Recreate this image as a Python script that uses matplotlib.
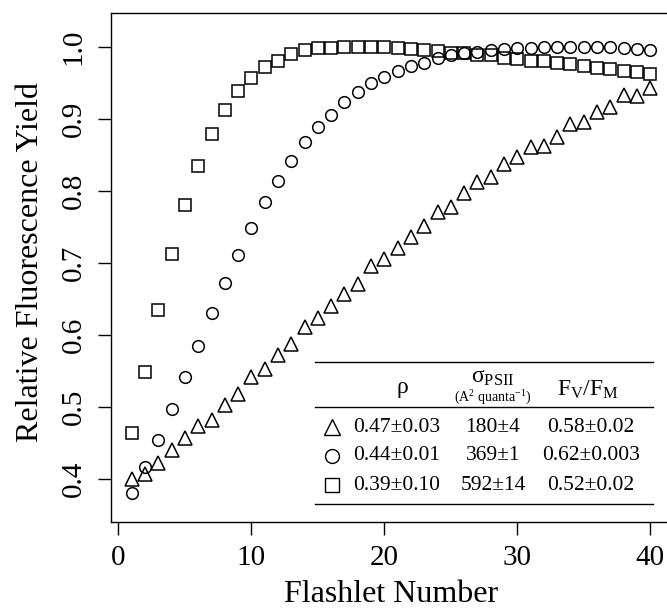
import numpy as np
import matplotlib
matplotlib.use("Agg")
import matplotlib.pyplot as plt
from matplotlib.lines import Line2D

plt.rcParams['font.family'] = ['Liberation Serif', 'DejaVu Serif']
plt.rcParams['mathtext.fontset'] = 'custom'
plt.rcParams['mathtext.rm'] = 'Liberation Serif'
plt.rcParams['mathtext.it'] = 'Liberation Serif:italic'

# Dados
flashlet = np.arange(1, 41)

yield_tri = [0.400, 0.407, 0.422, 0.440, 0.457, 0.474, 0.482, 0.503, 0.518, 0.542,
             0.553, 0.572, 0.587, 0.611, 0.624, 0.640, 0.656, 0.671, 0.695, 0.705,
             0.721, 0.736, 0.751, 0.770, 0.778, 0.797, 0.812, 0.819, 0.837, 0.847,
             0.861, 0.862, 0.875, 0.893, 0.896, 0.909, 0.916, 0.933, 0.932, 0.943]

yield_circ = [0.380, 0.417, 0.454, 0.497, 0.542, 0.585, 0.630, 0.672, 0.711, 0.748,
              0.784, 0.813, 0.841, 0.868, 0.888, 0.906, 0.923, 0.937, 0.950, 0.958,
              0.967, 0.974, 0.978, 0.984, 0.989, 0.991, 0.993, 0.995, 0.997, 0.998,
              0.999, 1.000, 1.000, 1.000, 1.000, 1.000, 1.000, 0.999, 0.997, 0.996]

yield_sq = [0.464, 0.549, 0.635, 0.712, 0.781, 0.835, 0.879, 0.912, 0.939, 0.957,
            0.972, 0.981, 0.990, 0.995, 0.998, 0.999, 1.000, 1.000, 1.000, 1.000,
            0.998, 0.997, 0.996, 0.994, 0.992, 0.991, 0.989, 0.988, 0.985, 0.983,
            0.981, 0.980, 0.978, 0.976, 0.974, 0.971, 0.969, 0.967, 0.965, 0.962]

# Tabela da legenda
table_markers = ['^', 'o', 's']
rho_vals = ['0.47±0.03', '0.44±0.01', '0.39±0.10']
sigma_vals = ['180±4', '369±1', '592±14']
fvfm_vals = ['0.58±0.02', '0.62±0.003', '0.52±0.02']

W, H = 667, 611
fig = plt.figure(figsize=(W / 100, H / 100), dpi=100)
ax = fig.add_axes([111 / W, 1 - 522 / H, (671 - 111) / W, (522 - 13) / H])


def px(x, y):
    # pixels da imagem -> fracao da figura
    return x / W, 1 - y / H


kw = dict(linestyle='none', mfc='none', mec='black', mew=1.1)
ax.plot(flashlet, yield_tri, marker='^', ms=10, **kw)
ax.plot(flashlet, yield_circ, marker='o', ms=8.4, **kw)
ax.plot(flashlet, yield_sq, marker='s', ms=8.4, **kw)

ax.set_xlim(-0.56, 41.56)
ax.set_ylim(0.34, 1.047)
ax.set_xticks([0, 10, 20, 30, 40])
ax.set_yticks([0.4, 0.5, 0.6, 0.7, 0.8, 0.9, 1.0])
ax.set_yticklabels(['0.4', '0.5', '0.6', '0.7', '0.8', '0.9', '1.0'])
for s in ax.spines.values():
    s.set_linewidth(1.0)
ax.tick_params(axis='both', direction='out', length=9.5, width=1.0, labelsize=21)
ax.tick_params(axis='x', pad=7)
ax.tick_params(axis='y', pad=8)
plt.setp(ax.get_yticklabels(), rotation=90, va='center')

fig.text(*px(391, 595), 'Flashlet Number', fontsize=23, ha='center', va='center')
fig.text(*px(31, 262), 'Relative Fluorescence Yield', fontsize=23, ha='center',
         va='center', rotation=90)

# linhas da tabela
for ly in [362, 407, 504]:
    x0, y0 = px(315, ly)
    x1, _ = px(653, ly)
    fig.add_artist(Line2D([x0, x1], [y0, y0], color='black', lw=1.0))

# cabecalho
fig.text(*px(402, 387), 'ρ', fontsize=17, ha='center', va='center')
fig.text(*px(493, 377), 'σ$_{\\mathrm{PSII}}$', fontsize=17, ha='center', va='center')
fig.text(*px(493, 398), '(A$^{2}$ quanta$^{-1}$)', fontsize=10, ha='center', va='center')
fig.text(*px(588, 390), 'F$_{\\mathrm{V}}$/F$_{\\mathrm{M}}$', fontsize=17,
         ha='center', va='center')

row_y = [427, 456, 485]
msz = {'^': 11, 'o': 10, 's': 10}
for i in range(3):
    mx, my = px(332, row_y[i])
    fig.add_artist(Line2D([mx], [my], marker=table_markers[i], ms=msz[table_markers[i]],
                          linestyle='none', mfc='none', mec='black', mew=1.0))
    fig.text(*px(397, row_y[i]), rho_vals[i], fontsize=15.5, ha='center', va='center')
    fig.text(*px(493, row_y[i]), sigma_vals[i], fontsize=15.5, ha='center', va='center')
    fig.text(*px(591, row_y[i]), fvfm_vals[i], fontsize=15.5, ha='center', va='center')

fig.savefig('out.png', dpi=100)
